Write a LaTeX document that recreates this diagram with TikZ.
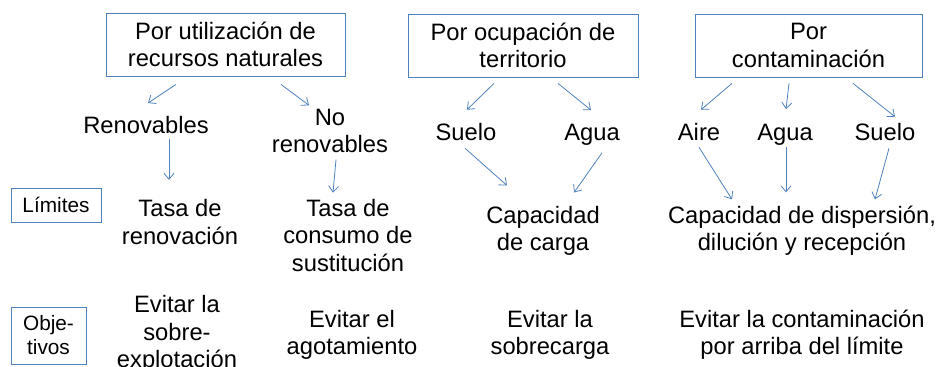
\documentclass[tikz,border=0pt]{standalone}
\usepackage{fontspec}
\setmainfont{Liberation Sans}
\usetikzlibrary{arrows.meta}
\definecolor{lineblue}{RGB}{79,129,189}

\begin{document}
\begin{tikzpicture}[x=0.75pt,y=-0.75pt,
    box/.style={draw=lineblue,line width=0.6pt,inner sep=0pt,align=center,font=\fontsize{17.8}{20.5}\selectfont},
    lbl/.style={inner sep=0pt,align=center,font=\fontsize{17.8}{20.5}\selectfont},
    tag/.style={draw=lineblue,line width=0.6pt,inner sep=0pt,align=center,font=\fontsize{15.6}{18}\selectfont},
    arr/.style={-{Straight Barb[length=4.5pt,width=7.5pt]},draw=lineblue,line width=0.6pt}]
    \useasboundingbox (0,0) rectangle (945,367);

    \node[box,minimum width=179.25pt,minimum height=47.25pt] (u) at (225.5,44.5) {Por utilización de\\recursos naturales};
    \node[box,minimum width=172.5pt,minimum height=47.25pt] (o) at (523,45.5) {Por ocupación de\\territorio};
    \node[box,minimum width=170.25pt,minimum height=47.25pt] (c) at (808.5,45.5) {Por\\contaminación};

    \node[lbl] (ren) at (146,125) {Renovables};
    \node[lbl] (nren) at (330,131) {No\\renovables};
    \node[lbl] (suelo) at (466,132) {Suelo};
    \node[lbl] (agua) at (592,134.5) {Agua};
    \node[lbl] (aire) at (699,132) {Aire};
    \node[lbl] (aguac) at (785,134.5) {Agua};
    \node[lbl] (sueloc) at (885,132) {Suelo};

    \node[tag,minimum width=67.5pt,minimum height=25.5pt] (lim) at (56,205) {Límites};
    \node[tag,minimum width=56.25pt,minimum height=42.75pt] (obj) at (48.5,335.5) {Obje-\\tivos};

    \node[lbl] (tr) at (180,222) {Tasa de\\renovación};
    \node[lbl] (tc) at (348,235.5) {Tasa de\\consumo de\\sustitución};
    \node[lbl] (cc) at (543,231) {Capacidad\\de carga};
    \node[lbl] (cd) at (802,231) {Capacidad de dispersión,\\dilución y recepción};

    \node[lbl] (ea) at (177,334) {Evitar la\\sobre-\\explotación};
    \node[lbl] (eg) at (352,335) {Evitar el\\agotamiento};
    \node[lbl] (es) at (550,335) {Evitar la\\sobrecarga};
    \node[lbl] (ec) at (802,335) {Evitar la contaminación\\por arriba del límite};

    \draw[arr] ([shift={(-49.5,8)}]u.south) -- ([shift={(2,-13)}]ren.north);
    \draw[arr] ([shift={(55.5,8)}]u.south) -- ([shift={(-21,-3.5)}]nren.north);
    \draw[arr] ([shift={(23,5.3)}]ren.south) -- ([shift={(-11,-19.5)}]tr.north);
    \draw[arr] ([shift={(6,6.5)}]nren.south) -- ([shift={(-15,-6.5)}]tc.north);

    \draw[arr] ([shift={(-29,6)}]o.south) -- ([shift={(1,-13.3)}]suelo.north);
    \draw[arr] ([shift={(35,6)}]o.south) -- ([shift={(-1,-13.5)}]agua.north);
    \draw[arr] ([shift={(-1,7.3)}]suelo.south) -- ([shift={(-36,-20.5)}]cc.north);
    \draw[arr] ([shift={(10,7.5)}]agua.south) -- ([shift={(31,-13.5)}]cc.north);

    \draw[arr] ([shift={(-76.5,6)}]c.south) -- ([shift={(2,-13.3)}]aire.north);
    \draw[arr] ([shift={(-19.5,6)}]c.south) -- ([shift={(1,-14.5)}]aguac.north);
    \draw[arr] ([shift={(44.5,6)}]c.south) -- ([shift={(10,-6.3)}]sueloc.north);
    \draw[arr] ([shift={(0,6.3)}]aire.south) -- ([shift={(-70,-6.5)}]cd.north);
    \draw[arr] ([shift={(1,2)}]aguac.south) -- ([shift={(-16,-13.5)}]cd.north);
    \draw[arr] ([shift={(4,7.3)}]sueloc.south) -- ([shift={(73,-6.5)}]cd.north);
\end{tikzpicture}
\end{document}
